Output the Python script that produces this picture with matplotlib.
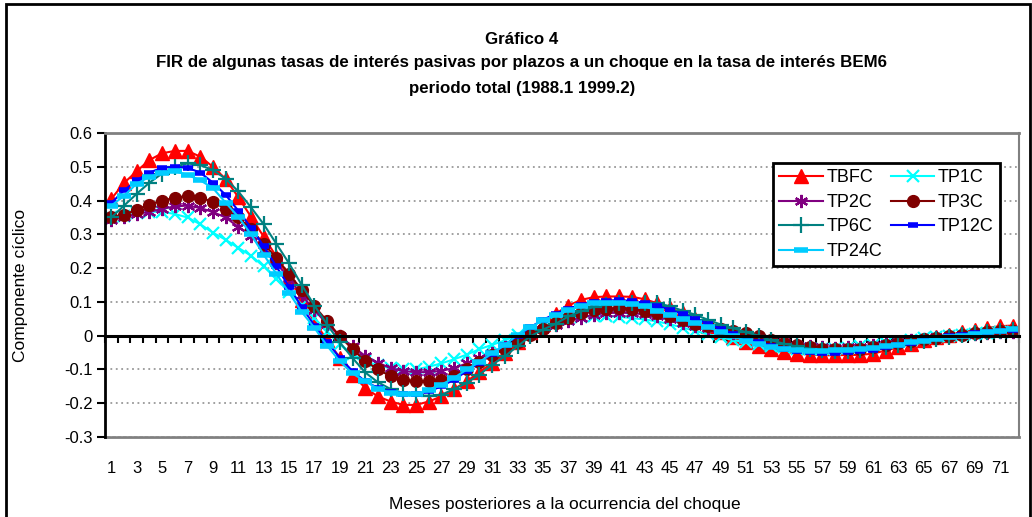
import numpy as np
import matplotlib
matplotlib.use("Agg")
import matplotlib.pyplot as plt
from matplotlib.patches import Rectangle

# meses 1..72
meses = np.arange(1, 73)

tbfc = [0.405, 0.452, 0.487, 0.520, 0.540, 0.547, 0.547, 0.530, 0.500, 0.464,
        0.410, 0.352, 0.293, 0.234, 0.170, 0.105, 0.040, -0.012, -0.066, -0.115,
        -0.155, -0.180, -0.195, -0.205, -0.205, -0.195, -0.180, -0.158, -0.135, -0.108,
        -0.080, -0.050, -0.020, 0.010, 0.035, 0.065, 0.089, 0.106, 0.114, 0.116,
        0.116, 0.115, 0.108, 0.096, 0.082, 0.066, 0.048, 0.030, 0.012, -0.005,
        -0.018, -0.030, -0.040, -0.047, -0.053, -0.056, -0.058, -0.058, -0.057, -0.057,
        -0.053, -0.044, -0.034, -0.024, -0.014, -0.005, 0.003, 0.010, 0.017, 0.023,
        0.028, 0.030]
tp1c = [0.350, 0.355, 0.362, 0.367, 0.367, 0.360, 0.350, 0.330, 0.305, 0.284,
        0.260, 0.237, 0.205, 0.168, 0.130, 0.092, 0.052, 0.012, -0.025, -0.055,
        -0.075, -0.088, -0.096, -0.100, -0.100, -0.092, -0.082, -0.070, -0.056, -0.040,
        -0.027, -0.014, 0.002, 0.015, 0.028, 0.040, 0.050, 0.056, 0.058, 0.058,
        0.056, 0.052, 0.048, 0.042, 0.034, 0.024, 0.014, 0.004, -0.005, -0.013,
        -0.020, -0.026, -0.031, -0.035, -0.038, -0.040, -0.040, -0.039, -0.036, -0.032,
        -0.028, -0.023, -0.018, -0.013, -0.008, -0.004, 0.000, 0.003, 0.006, 0.008,
        0.010, 0.011]
tp2c = [0.343, 0.352, 0.360, 0.367, 0.375, 0.383, 0.385, 0.378, 0.366, 0.350,
        0.322, 0.295, 0.255, 0.215, 0.170, 0.120, 0.075, 0.035, -0.002, -0.032,
        -0.060, -0.080, -0.096, -0.105, -0.108, -0.108, -0.104, -0.096, -0.082, -0.066,
        -0.050, -0.035, -0.017, 0.002, 0.020, 0.033, 0.044, 0.053, 0.062, 0.067,
        0.068, 0.067, 0.063, 0.057, 0.048, 0.038, 0.029, 0.022, 0.013, 0.007,
        0.002, -0.003, -0.012, -0.020, -0.027, -0.032, -0.035, -0.036, -0.035, -0.033,
        -0.029, -0.024, -0.019, -0.014, -0.009, -0.005, -0.001, 0.003, 0.006, 0.009,
        0.011, 0.012]
tp3c = [0.350, 0.358, 0.373, 0.388, 0.400, 0.408, 0.414, 0.408, 0.397, 0.375,
        0.350, 0.316, 0.272, 0.230, 0.183, 0.135, 0.087, 0.043, -0.002, -0.040,
        -0.075, -0.100, -0.120, -0.130, -0.135, -0.135, -0.130, -0.118, -0.098, -0.078,
        -0.058, -0.040, -0.020, 0.002, 0.020, 0.037, 0.053, 0.066, 0.075, 0.080,
        0.082, 0.080, 0.074, 0.066, 0.057, 0.047, 0.036, 0.028, 0.019, 0.014,
        0.007, -0.001, -0.012, -0.021, -0.029, -0.035, -0.039, -0.040, -0.040, -0.038,
        -0.034, -0.029, -0.023, -0.017, -0.011, -0.006, -0.001, 0.003, 0.007, 0.010,
        0.013, 0.015]
tp6c = [0.350, 0.385, 0.420, 0.453, 0.480, 0.500, 0.510, 0.505, 0.490, 0.465,
        0.427, 0.380, 0.330, 0.272, 0.214, 0.150, 0.089, 0.033, -0.020, -0.066,
        -0.109, -0.138, -0.158, -0.170, -0.177, -0.178, -0.175, -0.158, -0.140, -0.115,
        -0.086, -0.061, -0.031, -0.002, 0.018, 0.035, 0.057, 0.072, 0.085, 0.092,
        0.097, 0.098, 0.098, 0.096, 0.087, 0.074, 0.062, 0.047, 0.033, 0.022,
        0.010, 0.000, -0.014, -0.024, -0.032, -0.038, -0.042, -0.044, -0.044, -0.043,
        -0.040, -0.035, -0.029, -0.022, -0.015, -0.009, -0.003, 0.002, 0.007, 0.011,
        0.014, 0.016]
tp12c = [0.393, 0.430, 0.460, 0.483, 0.497, 0.500, 0.497, 0.483, 0.453, 0.417,
         0.370, 0.320, 0.265, 0.205, 0.145, 0.085, 0.030, -0.020, -0.065, -0.105,
         -0.135, -0.155, -0.168, -0.173, -0.173, -0.165, -0.150, -0.130, -0.105, -0.080,
         -0.053, -0.027, 0.000, 0.025, 0.047, 0.065, 0.080, 0.092, 0.100, 0.104,
         0.105, 0.103, 0.097, 0.088, 0.077, 0.064, 0.050, 0.035, 0.020, 0.006,
         -0.008, -0.020, -0.030, -0.038, -0.044, -0.048, -0.050, -0.050, -0.048, -0.045,
         -0.041, -0.035, -0.028, -0.021, -0.014, -0.008, -0.002, 0.003, 0.008, 0.012,
         0.015, 0.018]
tp24c = [0.385, 0.414, 0.450, 0.470, 0.483, 0.487, 0.476, 0.460, 0.437, 0.394,
         0.352, 0.300, 0.240, 0.183, 0.127, 0.070, 0.023, -0.030, -0.076, -0.112,
         -0.135, -0.157, -0.170, -0.173, -0.173, -0.162, -0.145, -0.125, -0.100, -0.078,
         -0.052, -0.028, 0.003, 0.025, 0.045, 0.060, 0.075, 0.088, 0.096, 0.097,
         0.097, 0.094, 0.087, 0.074, 0.062, 0.050, 0.037, 0.026, 0.010, -0.002,
         -0.016, -0.024, -0.035, -0.040, -0.043, -0.044, -0.044, -0.043, -0.041, -0.040,
         -0.036, -0.032, -0.027, -0.020, -0.015, -0.010, -0.004, 0.000, 0.006, 0.010,
         0.013, 0.020]

plt.rcParams['font.family'] = ['Liberation Sans', 'DejaVu Sans']

fig = plt.figure(figsize=(10.32, 5.17), dpi=100)
ax = fig.add_axes([105/1032, 1-437/517, 914/1032, 304/517])

# series, en el orden de Excel (la ultima queda encima)
series = [
    ("TBFC", tbfc, dict(color="#FF0000", marker="^", ms=9.5, mew=1)),
    ("TP1C", tp1c, dict(color="#00FFFF", marker="x", ms=8, mew=1.6)),
    ("TP2C", tp2c, dict(color="#800080", marker=(6, 2, 0), ms=9.5, mew=1.6)),
    ("TP3C", tp3c, dict(color="#800000", marker="o", ms=8.5, mew=1)),
    ("TP6C", tp6c, dict(color="#008080", marker="+", ms=11, mew=1.6)),
    ("TP12C", tp12c, dict(color="#0000FF", marker="_", ms=6.5, mew=4)),
    ("TP24C", tp24c, dict(color="#00CCFF", marker="_", ms=10, mew=4)),
]
lineas = {}
for nombre, vals, st in series:
    l, = ax.plot(meses, vals, lw=1.5, label=nombre, **st)
    lineas[nombre] = l

ax.set_xlim(0.5, 72.5)
ax.set_ylim(-0.3, 0.6)

# eje Y
yt = np.round(np.arange(-0.3, 0.61, 0.1), 1)
ax.set_yticks(yt)
ax.set_yticklabels([f"{v:g}" for v in yt])
ax.yaxis.grid(True, linestyle=(0, (1, 2)), color="#999999", lw=1.3)
ax.tick_params(axis="y", direction="out", length=6, width=1.5, pad=3, labelsize=12)
ax.spines["left"].set_linewidth(2)
ax.spines["left"].set_color("black")
ax.spines["top"].set_color("#808080")
ax.spines["top"].set_linewidth(2)
ax.spines["right"].set_color("#808080")
ax.spines["right"].set_linewidth(1.5)

# eje de categorias cruza en 0
ax.spines["bottom"].set_position(("data", 0))
ax.spines["bottom"].set_linewidth(2.2)
ax.spines["bottom"].set_color("black")
ax.set_xticks(np.arange(0.5, 73, 1))
ax.tick_params(axis="x", direction="out", length=5, width=1.5, labelbottom=False)

# etiquetas abajo, con el borde gris
sec = ax.secondary_xaxis("bottom")
sec.set_xticks(meses[::2])
sec.set_xticklabels([str(m) for m in meses[::2]])
sec.tick_params(length=0, pad=17, labelsize=12)
sec.spines["bottom"].set_color("#808080")
sec.spines["bottom"].set_linewidth(2)

ax.set_ylabel("Componente cíclico", fontsize=12.5)
ax.yaxis.set_label_coords(-77/914, 0.5)
fig.text(565/1032, 1-505/517, "Meses posteriores a la ocurrencia del choque",
         ha="center", va="center", fontsize=12.5)

# leyenda (orden por columnas)
orden = ["TBFC", "TP2C", "TP6C", "TP24C", "TP1C", "TP3C", "TP12C"]
leg = ax.legend([lineas[n] for n in orden], orden, ncol=2, loc="upper left",
                bbox_to_anchor=(773/1032, 1-163/517), bbox_transform=fig.transFigure,
                fontsize=13, frameon=True, fancybox=False, framealpha=1,
                edgecolor="black", handlelength=2.4, handletextpad=0.2,
                labelspacing=0.42, columnspacing=0.5, borderpad=0.35, borderaxespad=0)
leg.get_frame().set_linewidth(2)

# titulos
tfam = ['Liberation Sans Narrow', 'Liberation Sans', 'DejaVu Sans']
fig.text(522/1032, 1-40/517, "Gráfico 4", ha="center", va="center",
         fontsize=12.2, fontweight="bold", family=tfam)
fig.text(522/1032, 1-63/517,
         "FIR de algunas tasas de interés pasivas por plazos a un choque en la tasa de interés BEM6",
         ha="center", va="center", fontsize=12.2, fontweight="bold", family=tfam)
fig.text(522/1032, 1-88/517, "periodo total (1988.1 1999.2)", ha="center", va="center",
         fontsize=12.2, fontweight="bold", family=tfam)

# marco exterior del grafico
fig.patches.append(Rectangle((6/1032, -0.2), 1024/1032, 1.2 - 4/517, transform=fig.transFigure,
                             fill=False, edgecolor="black", lw=2))

fig.savefig("out.png", dpi=100)
